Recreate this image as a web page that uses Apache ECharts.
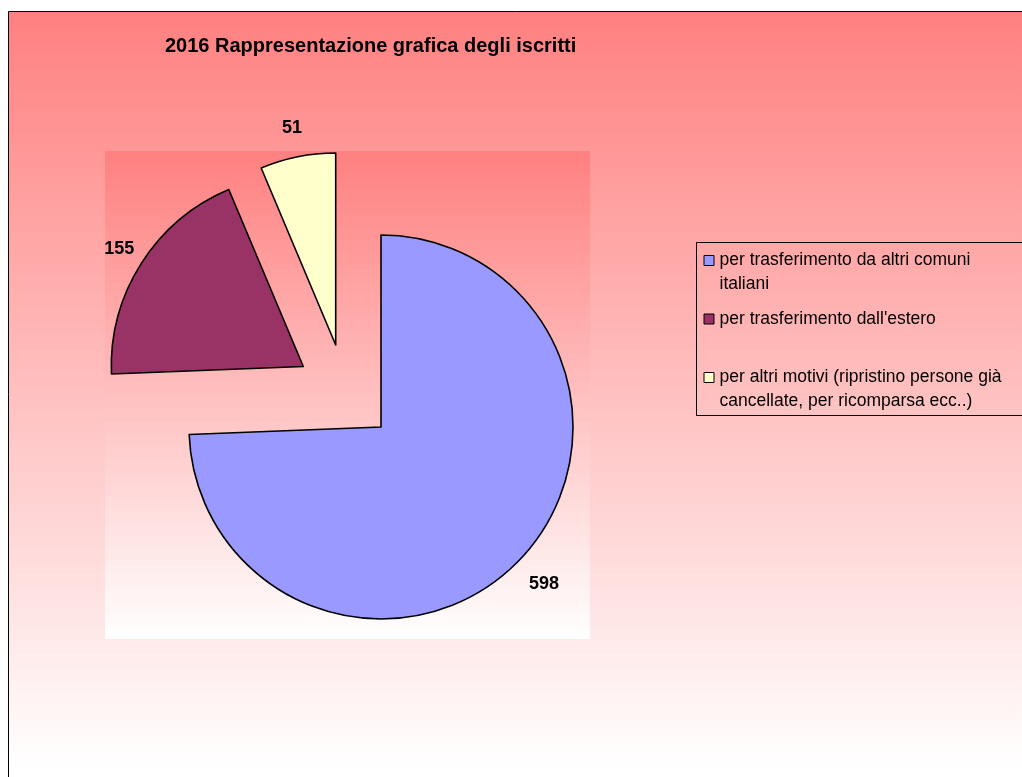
<!DOCTYPE html>
<html>
<head>
<meta charset="utf-8">
<script src="https://cdn.jsdelivr.net/npm/echarts@6/dist/echarts.min.js"></script>
<style>
  html, body { margin: 0; padding: 0; background: #ffffff; }
  #chart { width: 1022px; height: 777px; }
</style>
</head>
<body>
<div id="chart"></div>
<script>
// ---- data ----
const titleText = '2016 Rappresentazione grafica degli iscritti';
const categories = [
  'per trasferimento da altri comuni italiani',
  "per trasferimento dall'estero",
  'per altri motivi (ripristino persone già cancellate, per ricomparsa ecc..)'
];
const values = [598, 155, 51];
const legendLines = [
  'per trasferimento da altri comuni\nitaliani',
  "per trasferimento dall'estero\n ",
  'per altri motivi (ripristino persone già\ncancellate, per ricomparsa ecc..)'
];

// ---- styles / layout ----
const colors = ['#9999FF', '#993366', '#FFFFCC'];
const sliceCenters = [[381, 427], [303.3, 366.5], [335.7, 345]];
const labelLen = [34, 26, 29];
const labelHalfW = [15, 15, 10];
const FONT = '"Liberation Sans", Arial, sans-serif';

const chart = echarts.init(document.getElementById('chart'));

const series = categories.map((_, k) => ({
  type: 'pie',
  radius: 192,
  center: sliceCenters[k],
  startAngle: 90,
  clockwise: true,
  avoidLabelOverlap: false,
  animation: false,
  emphasis: { disabled: true },
  silent: true,
  z: 2,
  label: {
    show: true,
    position: 'outside',
    formatter: '{c}',
    color: '#000',
    fontFamily: FONT,
    fontWeight: 'bold',
    fontSize: 18,
    distanceToLabelLine: -labelHalfW[k]
  },
  labelLine: { show: false, length: labelLen[k], length2: 0 },
  data: categories.map((name, i) => i === k
    ? { name, value: values[i], itemStyle: { color: colors[i], borderColor: '#000', borderWidth: 1.6 } }
    : { name, value: values[i], itemStyle: { color: 'rgba(0,0,0,0)', borderWidth: 0 }, label: { show: false } })
}));

const iconPath = 'path://M0,0M0.5,7h10v10h-10zM11,48';

chart.setOption({
  animation: false,
  graphic: [
    {
      type: 'rect', z: 0, silent: true,
      shape: { x: 8.5, y: 11.5, width: 1100, height: 800 },
      style: {
        fill: new echarts.graphic.LinearGradient(0, 0, 0, 1, [
          { offset: 0, color: '#FF8080' },
          { offset: 0.945, color: '#FFFFFF' },
          { offset: 1, color: '#FFFFFF' }
        ]),
        stroke: '#000', lineWidth: 1
      }
    },
    {
      type: 'rect', z: 0, silent: true,
      shape: { x: 105, y: 151, width: 485, height: 488 },
      style: {
        fill: new echarts.graphic.LinearGradient(0, 0, 0, 1, [
          { offset: 0, color: '#FF8080' },
          { offset: 1, color: '#FFFFFF' }
        ])
      }
    },
    {
      type: 'rect', z: 1, silent: true,
      shape: { x: 696.5, y: 242.5, width: 400, height: 173 },
      style: { fill: 'none', stroke: '#000', lineWidth: 1 }
    }
  ],
  title: {
    text: titleText,
    left: 165,
    top: 36,
    padding: 0,
    textStyle: { fontFamily: FONT, fontWeight: 'bold', fontSize: 20, color: '#000' }
  },
  legend: {
    orient: 'vertical',
    left: 696,
    top: 242,
    padding: [6, 10, 4, 7],
    borderWidth: 0,
    itemWidth: 11,
    itemHeight: 48,
    itemGap: 9.5,
    selectedMode: false,
    data: categories.map((name, i) => ({
      name,
      icon: iconPath,
      itemStyle: { color: colors[i], borderColor: '#000', borderWidth: 1 }
    })),
    formatter: name => legendLines[categories.indexOf(name)],
    textStyle: { fontFamily: FONT, fontSize: 17.5, color: '#000', lineHeight: 24 }
  },
  series
});
</script>
</body>
</html>
